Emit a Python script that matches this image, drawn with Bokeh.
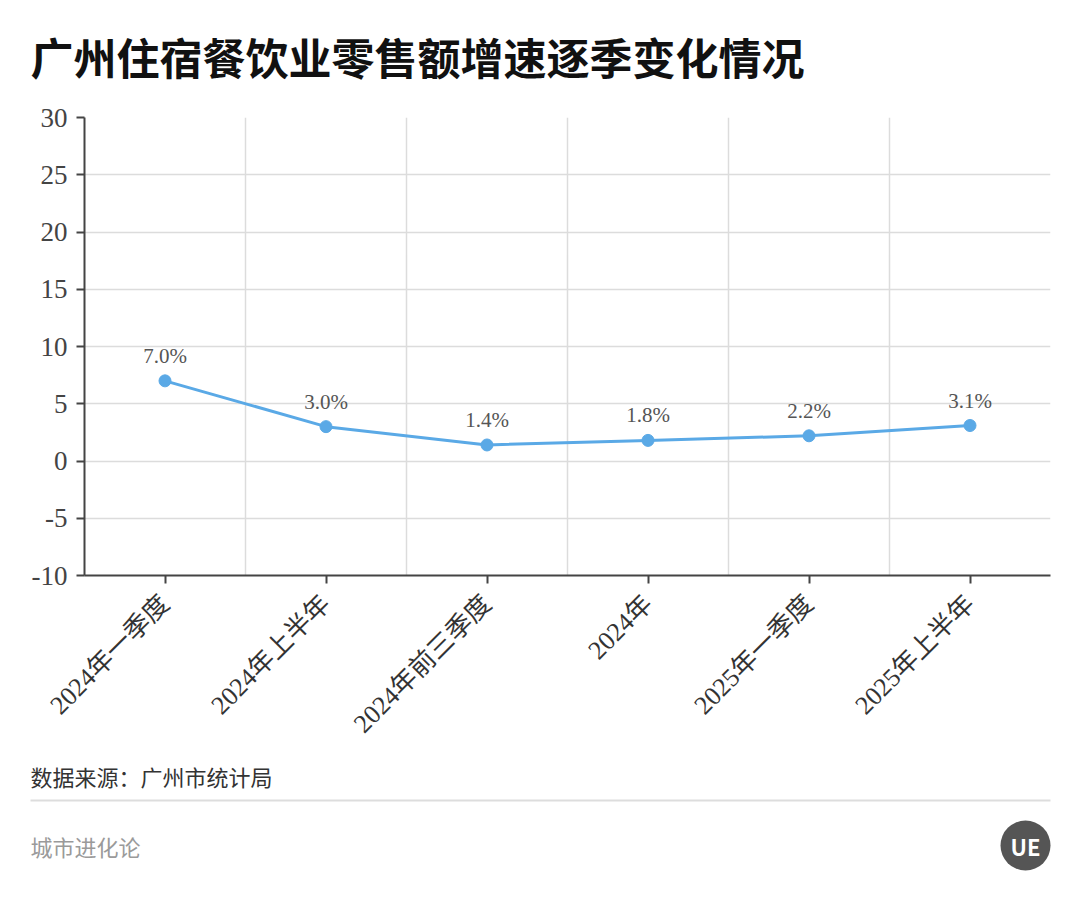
import math
from bokeh.plotting import figure
from bokeh.layouts import column
from bokeh.models import (FactorRange, Range1d, FixedTicker, Label, LabelSet,
                          ColumnDataSource, BoxAnnotation)
from bokeh.embed import file_html
from bokeh.resources import INLINE

# ---- data ----
categories = ["2024年一季度", "2024年上半年", "2024年前三季度", "2024年", "2025年一季度", "2025年上半年"]
growth = [7.0, 3.0, 1.4, 1.8, 2.2, 3.1]
y_ticks = [-10, -5, 0, 5, 10, 15, 20, 25, 30]
title_text = "广州住宿餐饮业零售额增速逐季变化情况"
source_text = "数据来源：广州市统计局"
brand_text = "城市进化论"
logo_text = "UE"

W = 1064
HEAD_H = 100
MAIN_H = 660
FOOT_H = 124
FL, FT, FR, FB = 84, 117, 1050, 575   # frame edges on the page
SERIF = "Liberation Serif, Noto Sans CJK SC"
SANS = "Noto Sans CJK SC"
LINE_COLOR = "#5aa9e6"


def blank(height):
    f = figure(width=W, height=height, x_range=Range1d(0, W), y_range=Range1d(height, 0),
               x_axis_location=None, y_axis_location=None,
               output_backend="svg", toolbar_location=None,
               min_border=0, min_border_left=0, min_border_right=0,
               min_border_top=0, min_border_bottom=0, frame_align=False)
    f.outline_line_color = None
    f.xgrid.visible = False
    f.ygrid.visible = False
    f.background_fill_color = "white"
    f.border_fill_color = "white"
    return f


# ---- header ----
head = blank(HEAD_H)
head.add_layout(Label(x=30, y=55, text=title_text,
                      text_font=SANS, text_font_size="43px", text_font_style="bold",
                      text_color="#111111", text_baseline="middle"))

# ---- main chart ----
top0 = HEAD_H
p = figure(width=W, height=MAIN_H,
           x_range=FactorRange(factors=categories),
           y_range=Range1d(y_ticks[0], y_ticks[-1]),
           output_backend="svg", toolbar_location=None,
           min_border_left=FL, min_border_right=W - FR,
           min_border_top=FT - top0, min_border_bottom=top0 + MAIN_H - FB,
           frame_align=False)
p.outline_line_color = None
p.background_fill_color = "white"
p.border_fill_color = "white"

p.ygrid.ticker = FixedTicker(ticks=y_ticks)
p.ygrid.grid_line_color = "#dcdcdc"
p.ygrid.grid_line_width = 1.5
p.xgrid.ticker = FixedTicker(ticks=list(range(1, len(categories))))
p.xgrid.grid_line_color = "#dcdcdc"
p.xgrid.grid_line_width = 1.5

p.yaxis.ticker = FixedTicker(ticks=y_ticks)
p.yaxis.major_label_overrides = {t: str(t) for t in y_ticks}
for ax in (p.xaxis, p.yaxis):
    ax.axis_line_color = "#444444"
    ax.axis_line_width = 2
    ax.major_tick_line_color = "#444444"
    ax.major_tick_line_width = 2
    ax.major_tick_out = 8
    ax.major_tick_in = 0
    ax.minor_tick_line_color = None
p.yaxis.major_label_text_font = SERIF
p.yaxis.major_label_text_font_size = "27px"
p.yaxis.major_label_text_color = "#444444"
p.yaxis.major_label_standoff = 9
p.xaxis.major_label_orientation = math.pi / 4
p.xaxis.major_label_text_font = SERIF
p.xaxis.major_label_text_font_size = "26px"
p.xaxis.major_label_text_color = "#333333"
p.xaxis.major_label_standoff = 16

src = ColumnDataSource(dict(x=categories, y=growth,
                            label=[f"{v:.1f}%" for v in growth]))
p.line("x", "y", source=src, line_color=LINE_COLOR, line_width=3)
p.scatter("x", "y", source=src, size=12, fill_color=LINE_COLOR, line_color=LINE_COLOR)
p.add_layout(LabelSet(x="x", y="y", text="label", source=src, y_offset=13,
                      text_align="center", text_baseline="bottom",
                      text_font=SERIF, text_font_size="21px", text_color="#555555"))

# ---- footer ----
top1 = HEAD_H + MAIN_H
foot = blank(FOOT_H)
foot.add_layout(Label(x=30, y=775 - top1, text=source_text,
                      text_font=SANS, text_font_size="22px", text_color="#333333",
                      text_baseline="middle"))
foot.add_layout(BoxAnnotation(left=30, right=1050, top=799 - top1, bottom=801 - top1,
                              fill_color="#dddddd", fill_alpha=1, line_color=None))
foot.add_layout(Label(x=30, y=845 - top1, text=brand_text,
                      text_font=SANS, text_font_size="22px", text_color="#9a9a9a",
                      text_baseline="middle"))
foot.circle(x=[1025], y=[845 - top1], radius=25, fill_color="#555555", line_color=None)
foot.add_layout(Label(x=1025, y=845 - top1, text=logo_text,
                      text_font=SANS, text_font_size="22px", text_font_style="bold",
                      text_color="white", text_align="center", text_baseline="middle"))

layout = column(head, p, foot, spacing=0)
open("out.html", "w").write(file_html(layout, INLINE))
